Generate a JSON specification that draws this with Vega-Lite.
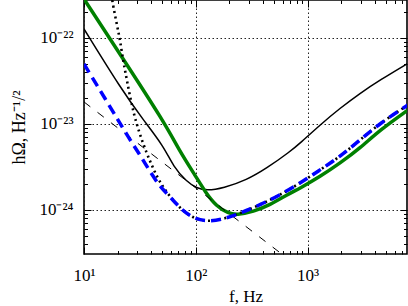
{
  "$schema": "https://vega.github.io/schema/vega-lite/v6.json",
  "width": 323,
  "height": 254,
  "autosize": "none",
  "padding": {"left": 84, "top": 0, "right": 1, "bottom": 52},
  "background": "white",
  "config": {
    "view": {"stroke": "black", "strokeWidth": 1.6},
    "axis": {"labelFont": "Liberation Serif", "titleFont": "Liberation Serif", "labelColor": "black", "titleColor": "black", "tickColor": "black", "titleFontWeight": "normal"}
  },
  "datasets": {
    "black": [
      {"f": 10, "h": 1.262e-22}, {"f": 21.74, "h": 2.466e-23}, {"f": 33.91, "h": 1.104e-23},
      {"f": 51.95, "h": 5.40e-24}, {"f": 62.9, "h": 3.16e-24}, {"f": 82.9, "h": 2.116e-24},
      {"f": 101.9, "h": 1.774e-24}, {"f": 125.2, "h": 1.663e-24}, {"f": 176.2, "h": 1.774e-24},
      {"f": 285.3, "h": 2.214e-24}, {"f": 430.7, "h": 3.03e-24}, {"f": 696, "h": 4.73e-24},
      {"f": 855, "h": 5.92e-24}, {"f": 1291, "h": 9.66e-24}, {"f": 1949, "h": 1.510e-23},
      {"f": 2942, "h": 2.257e-23}, {"f": 4442, "h": 3.22e-23}, {"f": 7907, "h": 5.04e-23}
    ],
    "green": [
      {"f": 10, "h": 2.81e-22}, {"f": 21.0, "h": 6.43e-23}, {"f": 51.95, "h": 1.054e-23},
      {"f": 72.2, "h": 4.72e-24}, {"f": 98.3, "h": 2.53e-24}, {"f": 120.9, "h": 1.618e-24},
      {"f": 153.8, "h": 1.084e-24}, {"f": 195.3, "h": 9.08e-25}, {"f": 232.2, "h": 8.67e-25},
      {"f": 326.9, "h": 9.48e-25}, {"f": 461, "h": 1.135e-24}, {"f": 650, "h": 1.483e-24},
      {"f": 855, "h": 1.774e-24}, {"f": 1291, "h": 2.42e-24}, {"f": 1949, "h": 3.47e-24},
      {"f": 2942, "h": 5.18e-24}, {"f": 4442, "h": 8.45e-24}, {"f": 7907, "h": 1.442e-23}
    ],
    "dotted": [
      {"f": 17.55, "h": 3.14e-22}, {"f": 18.29, "h": 2.294e-22}, {"f": 19.86, "h": 1.343e-22},
      {"f": 20.99, "h": 9.40e-23}, {"f": 22.47, "h": 5.26e-23}, {"f": 23.89, "h": 3.52e-23},
      {"f": 25.26, "h": 2.355e-23}, {"f": 27.04, "h": 1.576e-23}, {"f": 28.58, "h": 1.156e-23},
      {"f": 31.70, "h": 7.39e-24}, {"f": 36.38, "h": 4.53e-24}, {"f": 40.32, "h": 3.31e-24},
      {"f": 44.98, "h": 2.40e-24}, {"f": 51.2, "h": 1.822e-24}, {"f": 58.77, "h": 1.416e-24},
      {"f": 74.8, "h": 9.92e-25}, {"f": 94.97, "h": 7.94e-25}, {"f": 125.2, "h": 7.25e-25},
      {"f": 176.2, "h": 7.73e-25}, {"f": 248.5, "h": 9.08e-25}, {"f": 375.2, "h": 1.135e-24},
      {"f": 566.5, "h": 1.483e-24}, {"f": 855, "h": 2.03e-24}, {"f": 1291, "h": 2.90e-24},
      {"f": 1949, "h": 4.13e-24}, {"f": 2942, "h": 6.46e-24}, {"f": 4442, "h": 1.011e-23},
      {"f": 7907, "h": 1.650e-23}
    ],
    "dashed": [
      {"f": 10, "h": 1.788e-23}, {"f": 1000, "h": 1.788e-25}
    ],
    "blue": [
      {"f": 10, "h": 4.94e-23}, {"f": 16.73, "h": 1.650e-23}, {"f": 25.78, "h": 6.46e-24},
      {"f": 31.70, "h": 4.33e-24}, {"f": 38.94, "h": 2.77e-24}, {"f": 47.84, "h": 1.849e-24},
      {"f": 58.77, "h": 1.416e-24}, {"f": 74.8, "h": 9.92e-25}, {"f": 94.97, "h": 7.94e-25},
      {"f": 125.2, "h": 7.25e-25}, {"f": 176.2, "h": 7.73e-25}, {"f": 248.5, "h": 9.08e-25},
      {"f": 375.2, "h": 1.135e-24}, {"f": 566.5, "h": 1.483e-24}, {"f": 855, "h": 2.03e-24},
      {"f": 1291, "h": 2.90e-24}, {"f": 1949, "h": 4.13e-24}, {"f": 2942, "h": 6.46e-24},
      {"f": 4442, "h": 1.011e-23}, {"f": 7907, "h": 1.650e-23}
    ]
  },
  "resolve": {"scale": {"x": "independent", "y": "independent"}},
  "layer": [
    {
      "data": {"name": "black"},
      "mark": {"type": "line", "color": "black", "strokeWidth": 1.5, "interpolate": "basis", "clip": true},
      "encoding": {
        "x": {"field": "f", "type": "quantitative", "scale": {"type": "log", "domain": [10, 7745], "nice": false},
          "axis": {"orient": "bottom",
            "values": [10, 20, 30, 40, 50, 60, 70, 80, 90, 100, 200, 300, 400, 500, 600, 700, 800, 900, 1000, 2000, 3000, 4000, 5000, 6000, 7000],
            "ticks": true, "domain": false, "grid": true,
            "tickSize": {"condition": {"test": "abs(log(datum.value)/LN10 - round(log(datum.value)/LN10)) < 1e-6", "value": -7}, "value": -3.5},
            "tickWidth": 1,
            "gridOpacity": {"condition": {"test": "abs(log(datum.value)/LN10 - round(log(datum.value)/LN10)) < 1e-6", "value": 1}, "value": 0},
            "gridDash": [1.5, 2.5], "gridColor": "#222", "gridWidth": 1, "labelFontSize": 17, "labelPadding": 20,
            "labelFlush": false, "labelOverlap": false,
            "labelExpr": "abs(log(datum.value)/LN10 - round(log(datum.value)/LN10)) < 1e-6 ? (datum.value < 50 ? '10¹' : datum.value < 500 ? '10²' : '10³') : ''",
            "title": "f, Hz", "titleFontSize": 17, "titlePadding": 2}},
        "y": {"field": "h", "type": "quantitative", "scale": {"type": "log", "domain": [3.05e-25, 2.74e-22], "nice": false},
          "axis": {"orient": "left",
            "values": [4e-25, 5e-25, 6e-25, 7e-25, 8e-25, 9e-25, 1e-24, 2e-24, 3e-24, 4e-24, 5e-24, 6e-24, 7e-24, 8e-24, 9e-24, 1e-23, 2e-23, 3e-23, 4e-23, 5e-23, 6e-23, 7e-23, 8e-23, 9e-23, 1e-22, 2e-22],
            "ticks": true, "domain": false, "grid": true,
            "tickSize": {"condition": {"test": "abs(log(datum.value)/LN10 - round(log(datum.value)/LN10)) < 1e-6", "value": -7}, "value": -3.5},
            "tickWidth": 1,
            "gridOpacity": {"condition": {"test": "abs(log(datum.value)/LN10 - round(log(datum.value)/LN10)) < 1e-6", "value": 1}, "value": 0},
            "gridDash": [1.5, 2.5], "gridColor": "#222", "gridWidth": 1, "labelFontSize": 17, "labelPadding": 18,
            "labelOverlap": false,
            "labelExpr": "abs(log(datum.value)/LN10 - round(log(datum.value)/LN10)) < 1e-6 ? (datum.value > 5e-23 ? '10⁻²²' : datum.value > 5e-24 ? '10⁻²³' : '10⁻²⁴') : ''",
            "title": "hΩ, Hz⁻¹/²", "titleFontSize": 18, "titlePadding": 10}}
      }
    },
    {
      "data": {"name": "green"},
      "mark": {"type": "line", "color": "#008000", "strokeWidth": 3.5, "interpolate": "basis", "clip": true},
      "encoding": {
        "x": {"field": "f", "type": "quantitative", "scale": {"type": "log", "domain": [10, 7745], "nice": false},
          "axis": {"orient": "top",
            "values": [10, 20, 30, 40, 50, 60, 70, 80, 90, 100, 200, 300, 400, 500, 600, 700, 800, 900, 1000, 2000, 3000, 4000, 5000, 6000, 7000],
            "ticks": true, "labels": false, "domain": false, "grid": false, "title": null,
            "tickSize": {"condition": {"test": "abs(log(datum.value)/LN10 - round(log(datum.value)/LN10)) < 1e-6", "value": -7}, "value": -3.5},
            "tickWidth": 1}},
        "y": {"field": "h", "type": "quantitative", "scale": {"type": "log", "domain": [3.05e-25, 2.74e-22], "nice": false},
          "axis": {"orient": "right",
            "values": [4e-25, 5e-25, 6e-25, 7e-25, 8e-25, 9e-25, 1e-24, 2e-24, 3e-24, 4e-24, 5e-24, 6e-24, 7e-24, 8e-24, 9e-24, 1e-23, 2e-23, 3e-23, 4e-23, 5e-23, 6e-23, 7e-23, 8e-23, 9e-23, 1e-22, 2e-22],
            "ticks": true, "labels": false, "domain": false, "grid": false, "title": null,
            "tickSize": {"condition": {"test": "abs(log(datum.value)/LN10 - round(log(datum.value)/LN10)) < 1e-6", "value": -7}, "value": -3.5},
            "tickWidth": 1}}
      }
    },
    {
      "data": {"name": "dotted"},
      "mark": {"type": "line", "color": "black", "strokeWidth": 2.6, "strokeDash": [2, 3.5], "interpolate": "basis", "clip": true},
      "encoding": {
        "x": {"field": "f", "type": "quantitative", "scale": {"type": "log", "domain": [10, 7745], "nice": false}, "axis": null},
        "y": {"field": "h", "type": "quantitative", "scale": {"type": "log", "domain": [3.05e-25, 2.74e-22], "nice": false}, "axis": null}
      }
    },
    {
      "data": {"name": "dashed"},
      "mark": {"type": "line", "color": "black", "strokeWidth": 1, "strokeDash": [8, 9], "clip": true},
      "encoding": {
        "x": {"field": "f", "type": "quantitative", "scale": {"type": "log", "domain": [10, 7745], "nice": false}, "axis": null},
        "y": {"field": "h", "type": "quantitative", "scale": {"type": "log", "domain": [3.05e-25, 2.74e-22], "nice": false}, "axis": null}
      }
    },
    {
      "data": {"name": "blue"},
      "mark": {"type": "line", "color": "#0000ff", "strokeWidth": 3.5, "strokeDash": [10, 6], "interpolate": "basis", "clip": true},
      "encoding": {
        "x": {"field": "f", "type": "quantitative", "scale": {"type": "log", "domain": [10, 7745], "nice": false}, "axis": null},
        "y": {"field": "h", "type": "quantitative", "scale": {"type": "log", "domain": [3.05e-25, 2.74e-22], "nice": false}, "axis": null}
      }
    }
  ]
}
